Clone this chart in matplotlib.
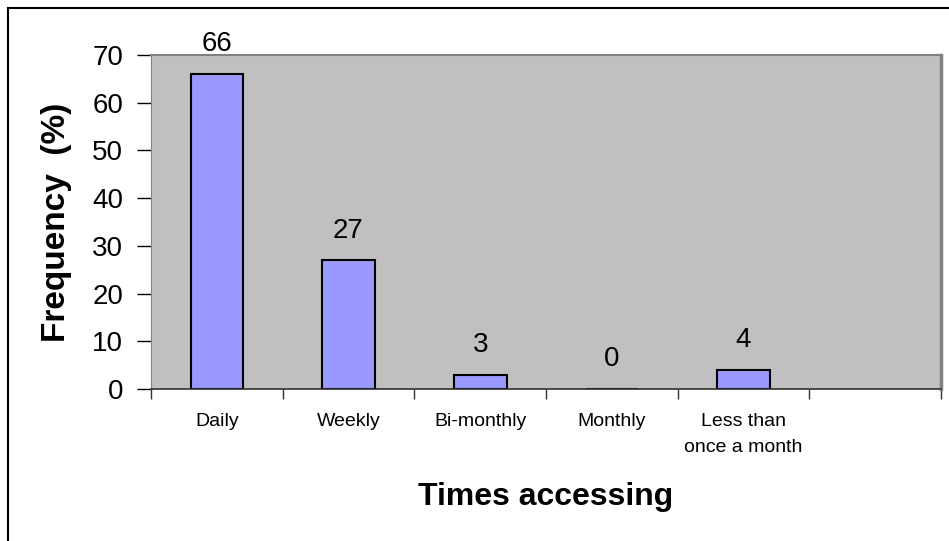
import numpy as np
import matplotlib.pyplot as plt
from matplotlib.lines import Line2D

plt.rcParams['font.family'] = ['Liberation Sans', 'DejaVu Sans']

categories = ['Daily', 'Weekly', 'Bi-monthly', 'Monthly', 'Less than\nonce a month']
values = [66, 27, 3, 0, 4]
n_slots = 6  # Excel left an empty slot on the right

fig = plt.figure(figsize=(9.49, 5.41), dpi=100)
ax = fig.add_axes([151 / 949, 152 / 541, 790 / 949, 334 / 541])
ax.set_facecolor('#C0C0C0')

x = np.arange(len(categories)) + 0.5
bars = ax.bar(x, values, width=0.4, color='#9999FF', edgecolor='black', linewidth=1.5)
for xi, v in zip(x, values):
    ax.annotate(str(v), (xi, v), xytext=(0, 12), textcoords='offset points',
                ha='center', va='bottom', fontsize=20)

ax.set_xlim(0, n_slots)
ax.set_ylim(0, 70)
ax.set_yticks(np.arange(0, 71, 10))
ax.tick_params(axis='y', direction='out', length=10, width=1, colors='black', labelsize=20, pad=10)

# ticks at category boundaries, labels at centres
ax.set_xticks(np.arange(0, n_slots + 1))
ax.set_xticklabels([])
ax.tick_params(axis='x', which='major', direction='out', length=7, width=1, color='#303030')
ax.set_xticks(x, minor=True)
ax.set_xticklabels(categories, minor=True, fontsize=14, linespacing=1.75, va='top')
ax.tick_params(axis='x', which='minor', length=0, pad=17)

ax.spines['left'].set_color('#808080')
ax.spines['top'].set_color('#808080')
ax.spines['top'].set_linewidth(1.5)
ax.spines['right'].set_color('#808080')
ax.spines['right'].set_linewidth(2.5)
ax.spines['bottom'].set_color('#303030')
ax.spines['bottom'].set_linewidth(1.2)

fig.text(57 / 949, 1 - 222 / 541, 'Frequency  (%)', rotation=90, ha='center', va='center',
         fontsize=24, fontweight='bold')
fig.text(546 / 949, 1 - 505 / 541, 'Times accessing', ha='center', va='baseline',
         fontsize=23, fontweight='bold')

# chart border (only left and top are inside the picture)
fig.add_artist(Line2D([7.5 / 949, 7.5 / 949], [0, 1 - 7.5 / 541], color='black', lw=1.5, transform=fig.transFigure))
fig.add_artist(Line2D([7.5 / 949, 1], [1 - 7.5 / 541, 1 - 7.5 / 541], color='black', lw=1.5, transform=fig.transFigure))

fig.savefig('out.png', dpi=100)
